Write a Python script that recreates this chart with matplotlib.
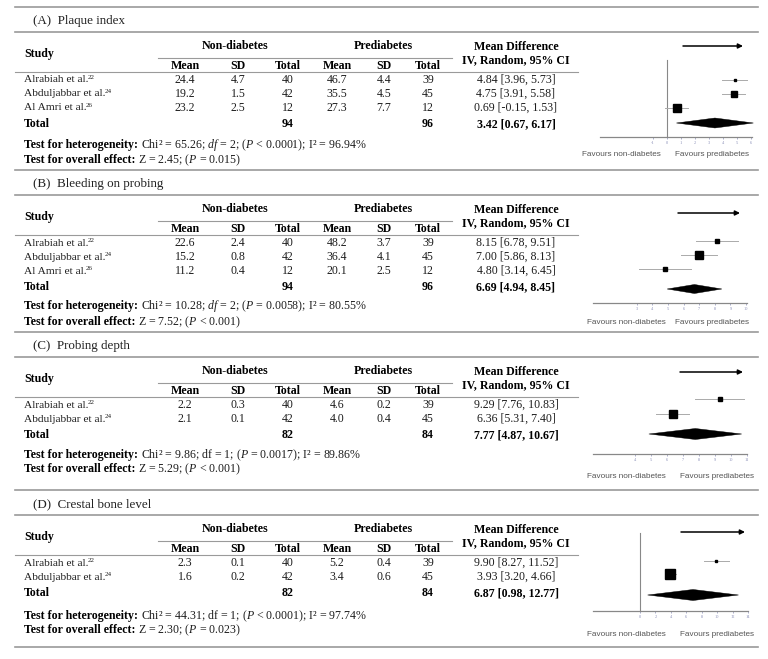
#!/usr/bin/env python
# -*- coding: utf-8 -*-
# Forest plots: non-diabetes vs prediabetes (four outcomes)

# == INCLUDE ==
import matplotlib
matplotlib.use("Agg")
import matplotlib.pyplot as plt
from matplotlib.patches import Polygon

# == CONFIG ==
plt.rcParams['font.family'] = ['Liberation Serif', 'DejaVu Serif']
plt.rcParams['mathtext.fontset'] = 'custom'
plt.rcParams['mathtext.rm'] = 'Liberation Serif'
plt.rcParams['mathtext.it'] = 'Liberation Serif:italic'
plt.rcParams['mathtext.bf'] = 'Liberation Serif:bold'

W, H = 768, 659

# == DATA ==
# (A) Plaque index
a_title = "(A)  Plaque index"
a_study = ["Alrabiah et al.", "Abduljabbar et al.", "Al Amri et al."]
a_ref = ["22", "24", "26"]
a_nd_mean = [24.4, 19.2, 23.2]
a_nd_sd = [4.7, 1.5, 2.5]
a_nd_n = [40, 42, 12]
a_pd_mean = [46.7, 35.5, 27.3]
a_pd_sd = [4.4, 4.5, 7.7]
a_pd_n = [39, 45, 12]
a_md = [4.84, 4.75, 0.69]
a_lo = [3.96, 3.91, -0.15]
a_hi = [5.73, 5.58, 1.53]
a_total = [94, 96]
a_pooled = [3.42, 0.67, 6.17]
a_het = r"Chi² = 65.26; $df$ = 2; ($P$ < 0.0001); I² = 96.94%"
a_z = r"Z = 2.45; ($P$ = 0.015)"
a_ticks = [-1, 0, 1, 2, 3, 4, 5, 6]

# (B) Bleeding on probing
b_title = "(B)  Bleeding on probing"
b_study = ["Alrabiah et al.", "Abduljabbar et al.", "Al Amri et al."]
b_ref = ["22", "24", "26"]
b_nd_mean = [22.6, 15.2, 11.2]
b_nd_sd = [2.4, 0.8, 0.4]
b_nd_n = [40, 42, 12]
b_pd_mean = [48.2, 36.4, 20.1]
b_pd_sd = [3.7, 4.1, 2.5]
b_pd_n = [39, 45, 12]
b_md = [8.15, 7.00, 4.80]
b_lo = [6.78, 5.86, 3.14]
b_hi = [9.51, 8.13, 6.45]
b_total = [94, 96]
b_pooled = [6.69, 4.94, 8.45]
b_het = r"Chi² = 10.28; $df$ = 2; ($P$ = 0.0058); I² = 80.55%"
b_z = r"Z = 7.52; ($P$ < 0.001)"
b_ticks = [3, 4, 5, 6, 7, 8, 9, 10]

# (C) Probing depth
c_title = "(C)  Probing depth"
c_study = ["Alrabiah et al.", "Abduljabbar et al."]
c_ref = ["22", "24"]
c_nd_mean = [2.2, 2.1]
c_nd_sd = [0.3, 0.1]
c_nd_n = [40, 42]
c_pd_mean = [4.6, 4.0]
c_pd_sd = [0.2, 0.4]
c_pd_n = [39, 45]
c_md = [9.29, 6.36]
c_lo = [7.76, 5.31]
c_hi = [10.83, 7.40]
c_total = [82, 84]
c_pooled = [7.77, 4.87, 10.67]
c_het = r"Chi² = 9.86; df = 1; ($P$ = 0.0017); I² = 89.86%"
c_z = r"Z = 5.29; ($P$ < 0.001)"
c_ticks = [4, 5, 6, 7, 8, 9, 10, 11]

# (D) Crestal bone level
d_title = "(D)  Crestal bone level"
d_study = ["Alrabiah et al.", "Abduljabbar et al."]
d_ref = ["22", "24"]
d_nd_mean = [2.3, 1.6]
d_nd_sd = [0.1, 0.2]
d_nd_n = [40, 42]
d_pd_mean = [5.2, 3.4]
d_pd_sd = [0.4, 0.6]
d_pd_n = [39, 45]
d_md = [9.90, 3.93]
d_lo = [8.27, 3.20]
d_hi = [11.52, 4.66]
d_total = [82, 84]
d_pooled = [6.87, 0.98, 12.77]
d_het = r"Chi² = 44.31; df = 1; ($P$ < 0.0001); I² = 97.74%"
d_z = r"Z = 2.30; ($P$ = 0.023)"
d_ticks = [0, 2, 4, 6, 8, 10, 12, 14]

# == LAYOUT (pixels) ==
# table: top rule, gap from total row to heterogeneity line, gap to Z line
a_lay = dict(top=7, het=21, z=15,
             fx=(600, 752), xlim=(-4.79, 6.07), arrow=(46, 683, 743),
             row0=80, step=14, dia=123, axis=137, fav=155, vline=60,
             box=[2.0, 4.0, 6.0], dh=10, fav_x=(621, 712))
b_lay = dict(top=170, het=19, z=16,
             fx=(593, 747), xlim=(0.19, 10.06), arrow=(213, 678, 740),
             row0=241, step=14, dia=289, axis=303, fav=322, vline=None,
             box=[3.2, 5.2, 2.2], dh=9, fav_x=(626, 712))
c_lay = dict(top=332, het=20, z=14,
             fx=(593, 747), xlim=(1.38, 11.0), arrow=(372, 680, 743),
             row0=399, step=15, dia=434, axis=454, fav=476, vline=None,
             box=[2.2, 6.0], dh=11, fav_x=(626, 717))
d_lay = dict(top=490, het=23, z=14,
             fx=(593, 748), xlim=(-6.1, 14.0), arrow=(532, 681, 745),
             row0=561, step=13, dia=595, axis=611, fav=634, vline=533,
             box=[1.8, 6.6], dh=11, fav_x=(626, 717))
bottom_rule = 647

col_x = [185, 238, 288, 337, 384, 428]
md_x = 516
rule_col = '#9a9a9a'
txt_col = '#1e1e1e'
fs = 8.6
fs_name = 8.2


def make_panel(title, study, ref, ndm, nds, ndn, pdm, pds, pdn,
               md, lo, hi, total, pooled, het, z, ticks, lay):
    return dict(title=title, study=study, ref=ref,
                cols=[ndm, nds, ndn, pdm, pds, pdn],
                md=md, lo=lo, hi=hi, total=total, pooled=pooled,
                het=het, z=z, ticks=ticks, lay=lay)


panels = [
    make_panel(a_title, a_study, a_ref, a_nd_mean, a_nd_sd, a_nd_n,
               a_pd_mean, a_pd_sd, a_pd_n, a_md, a_lo, a_hi, a_total,
               a_pooled, a_het, a_z, a_ticks, a_lay),
    make_panel(b_title, b_study, b_ref, b_nd_mean, b_nd_sd, b_nd_n,
               b_pd_mean, b_pd_sd, b_pd_n, b_md, b_lo, b_hi, b_total,
               b_pooled, b_het, b_z, b_ticks, b_lay),
    make_panel(c_title, c_study, c_ref, c_nd_mean, c_nd_sd, c_nd_n,
               c_pd_mean, c_pd_sd, c_pd_n, c_md, c_lo, c_hi, c_total,
               c_pooled, c_het, c_z, c_ticks, c_lay),
    make_panel(d_title, d_study, d_ref, d_nd_mean, d_nd_sd, d_nd_n,
               d_pd_mean, d_pd_sd, d_pd_n, d_md, d_lo, d_hi, d_total,
               d_pooled, d_het, d_z, d_ticks, d_lay),
]

# == BEGIN ==
fig = plt.figure(figsize=(W / 100, H / 100), dpi=100)
ax = fig.add_axes([0, 0, 1, 1])
ax.set_xlim(0, W)
ax.set_ylim(H, 0)
ax.axis('off')


def fmt(v):
    return f"{v}" if isinstance(v, int) else f"{v:.1f}"


def draw_table(p):
    t = p['lay']['top']
    ax.plot([15, 758], [t, t], color=rule_col, lw=1.2)
    ax.text(33, t + 14, p['title'], fontsize=9.4, va='center', color='#222')
    ax.plot([15, 758], [t + 25, t + 25], color=rule_col, lw=1.2)

    # header
    ax.text(24, t + 47, "Study", fontsize=fs, weight='bold', va='center')
    ax.text(235, t + 39, "Non-diabetes", fontsize=fs, weight='bold',
            ha='center', va='center')
    ax.text(383, t + 39, "Prediabetes", fontsize=fs, weight='bold',
            ha='center', va='center')
    ax.plot([158, 452], [t + 51, t + 51], color=rule_col, lw=0.8)
    for x, lab in zip(col_x, ["Mean", "SD", "Total"] * 2):
        ax.text(x, t + 59, lab, fontsize=fs, weight='bold',
                ha='center', va='center')
    ax.text(md_x, t + 40, "Mean Difference", fontsize=fs, weight='bold',
            ha='center', va='center')
    ax.text(md_x, t + 53, "IV, Random, 95% CI", fontsize=fs, weight='bold',
            ha='center', va='center')
    ax.plot([15, 578], [t + 65, t + 65], color=rule_col, lw=0.8)

    # study rows
    n = len(p['study'])
    for i in range(n):
        y = t + 73 + 14 * i
        tn = ax.text(24, y, p['study'][i], fontsize=fs_name, va='center',
                     color=txt_col)
        ax.annotate(p['ref'][i], xy=(1, 1.0), xycoords=tn, va='top',
                    fontsize=5.0, color=txt_col, xytext=(-0.8, 0.6),
                    textcoords='offset points')
        for x, col in zip(col_x, p['cols']):
            ax.text(x, y, fmt(col[i]), fontsize=fs, ha='center',
                    va='center', color=txt_col)
        ax.text(md_x, y, f"{p['md'][i]:.2f} [{p['lo'][i]:.2f}, {p['hi'][i]:.2f}]",
                fontsize=fs, ha='center', va='center', color=txt_col)

    # total row
    yt = t + 73 + 14 * (n - 1) + 16
    ax.text(24, yt, "Total", fontsize=fs, weight='bold', va='center')
    ax.text(col_x[2], yt, str(p['total'][0]), fontsize=fs, weight='bold',
            ha='center', va='center')
    ax.text(col_x[5], yt, str(p['total'][1]), fontsize=fs, weight='bold',
            ha='center', va='center')
    est, clo, chi = p['pooled']
    ax.text(md_x, yt, f"{est:.2f} [{clo:.2f}, {chi:.2f}]", fontsize=fs,
            weight='bold', ha='center', va='center')

    # tests
    yh = yt + p['lay']['het']
    yz = yh + p['lay']['z']
    for yy, head, rest in [(yh, "Test for heterogeneity: ", p['het']),
                           (yz, "Test for overall effect: ", p['z'])]:
        tb = ax.text(24, yy, head, fontsize=fs, weight='bold', va='center')
        ax.annotate(rest, xy=(1, 0.5), xycoords=tb, va='center',
                    fontsize=fs, color=txt_col)


def draw_forest(p):
    lay = p['lay']
    l, r = lay['fx']
    top = lay['arrow'][0] + 6
    bot = lay['axis']
    fa = fig.add_axes([l / W, 1 - bot / H, (r - l) / W, (bot - top) / H])
    fa.set_xlim(*lay['xlim'])
    fa.set_ylim(bot, top)
    fa.patch.set_alpha(0)
    for s in ['top', 'right', 'left']:
        fa.spines[s].set_visible(False)
    fa.spines['bottom'].set_color('#888')
    fa.spines['bottom'].set_linewidth(0.9)
    fa.set_yticks([])
    fa.set_xticks(p['ticks'])
    fa.set_xticklabels([str(v) for v in p['ticks']])
    fa.tick_params(axis='x', length=1.5, width=0.5, pad=1.5, labelsize=3.2,
                   colors='#8a8fb8')

    if lay['vline'] is not None:
        fa.plot([0, 0], [lay['vline'], bot], color='#888', lw=0.8,
                clip_on=False)

    for i in range(len(p['md'])):
        y = lay['row0'] + lay['step'] * i
        fa.plot([p['lo'][i], p['hi'][i]], [y, y], color='#aaaaaa', lw=0.7,
                clip_on=False)
        fa.plot(p['md'][i], y, marker='s', ms=lay['box'][i], color='black',
                mec='black', clip_on=False)

    est, clo, chi = p['pooled']
    yd, dh = lay['dia'], lay['dh']
    fa.add_patch(Polygon([(clo, yd), (est, yd - dh / 2), (chi, yd),
                          (est, yd + dh / 2)], closed=True,
                         facecolor='black', edgecolor='black', lw=0.3,
                         clip_on=False))

    ya, xa0, xa1 = lay['arrow']
    ax.annotate('', xy=(xa1, ya), xytext=(xa0, ya),
                arrowprops=dict(arrowstyle='-|>', color='black', lw=1.1,
                                mutation_scale=7, shrinkA=0, shrinkB=0))
    fx0, fx1 = lay['fav_x']
    ax.text(fx0, lay['fav'], "Favours non-diabetes", fontsize=5.9,
            family='Liberation Sans', ha='center', va='center', color='#555')
    ax.text(fx1, lay['fav'], "Favours prediabetes", fontsize=5.9,
            family='Liberation Sans', ha='center', va='center', color='#555')


for p in panels:
    draw_table(p)
    draw_forest(p)

ax.plot([15, 758], [bottom_rule, bottom_rule], color=rule_col, lw=1.2)

# -- OUT --
fig.savefig("out.png", dpi=100)
# EOF .
